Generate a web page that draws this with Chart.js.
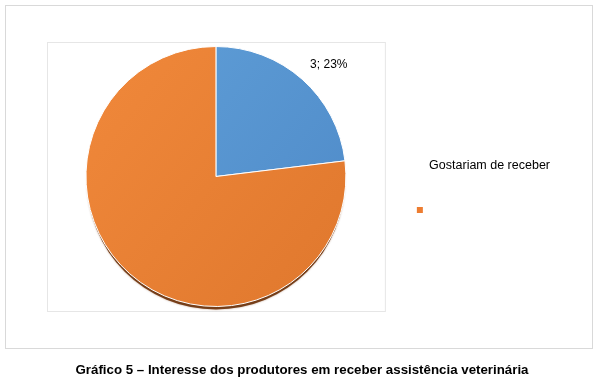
<!DOCTYPE html>
<html>
<head>
<meta charset="utf-8">
<script src="https://cdn.jsdelivr.net/npm/chart.js@4"></script>
<style>
  html, body { margin: 0; padding: 0; background: #fff; }
  #wrap { position: relative; width: 600px; height: 380px; }
  #frame { position: absolute; left: 5px; top: 5px; width: 588px; height: 344px;
           border: 1px solid #d9d9d9; box-sizing: border-box; }
  #chart { position: absolute; left: 0; top: 0; }
  #caption { position: absolute; left: 0; width: 604px; top: 362px; text-align: center;
             font: bold 13.3px "Liberation Sans", Arial, sans-serif; color: #000; }
</style>
</head>
<body>
<div id="wrap">
  <div id="frame"></div>
  <canvas id="chart" width="600" height="380"></canvas>
  <div id="caption">Gráfico 5 – Interesse dos produtores em receber assistência veterinária</div>
</div>
<script>
const categories = ['Gostariam de receber', ''];
const counts = [3, 10];
const percents = [23, 77];
const showLabel = [true, false];

const font = '"Liberation Sans", Arial, sans-serif';
const sliceLight = ['#62a2da', '#f28a3c'];
const sliceDark = ['#4c87c6', '#de762c'];

function sliceFill(ctx) {
  const i = ctx.dataIndex;
  const area = ctx.chart.chartArea;
  if (!area) return sliceLight[i];
  const g = ctx.chart.ctx.createLinearGradient(area.left, area.top, area.right, area.bottom);
  g.addColorStop(0, sliceLight[i]);
  g.addColorStop(1, sliceDark[i]);
  return g;
}

// inner plot-area box + a drop shadow under the pie
const decor = {
  id: 'decor',
  beforeDatasetsDraw(chart) {
    const { ctx, chartArea: a } = chart;
    ctx.save();
    ctx.strokeStyle = '#e6e6e6';
    ctx.lineWidth = 1;
    ctx.strokeRect(a.left + 0.5, a.top + 0.5, a.right - a.left, a.bottom - a.top);
    const arc = chart.getDatasetMeta(0).data[0];
    if (arc) {
      ctx.fillStyle = 'rgba(110,50,10,0.9)';
      ctx.shadowColor = 'rgba(110,50,10,0.5)';
      ctx.shadowBlur = 2;
      ctx.beginPath();
      ctx.arc(arc.x, arc.y + 4, arc.outerRadius - 1, 0, Math.PI * 2);
      ctx.fill();
    }
    ctx.restore();
  }
};

// "value; percent" labels outside the slice
const sliceLabels = {
  id: 'sliceLabels',
  afterDraw(chart) {
    const { ctx } = chart;
    chart.getDatasetMeta(0).data.forEach((arc, i) => {
      if (!showLabel[i]) return;
      const mid = (arc.startAngle + arc.endAngle) / 2;
      const x = arc.x + Math.cos(mid) * arc.outerRadius;
      const y = arc.y + Math.sin(mid) * arc.outerRadius;
      ctx.save();
      ctx.font = '12px ' + font;
      ctx.fillStyle = '#000';
      ctx.textAlign = 'left';
      ctx.textBaseline = 'middle';
      ctx.fillText(counts[i] + '; ' + percents[i] + '%', x + 8, y - 15);
      ctx.restore();
    });
  }
};

new Chart(document.getElementById('chart'), {
  type: 'pie',
  data: {
    labels: categories,
    datasets: [{
      data: counts,
      backgroundColor: sliceFill,
      borderColor: '#ffffff',
      borderWidth: 1,
      hoverOffset: 0
    }]
  },
  options: {
    responsive: false,
    animation: false,
    radius: '97%',
    layout: { padding: { left: 47, top: 42, bottom: 69, right: 40 } },
    plugins: {
      tooltip: { enabled: false },
      title: { display: false },
      legend: {
        position: 'right',
        title: { display: true, text: ' ', padding: { top: 8, bottom: 0 }, font: { size: 12, family: font } },
        labels: {
          boxWidth: 6,
          boxHeight: 6,
          padding: 32,
          color: '#000',
          font: { size: 12.5, family: font },
          generateLabels: () => categories.map((c, i) => ({
            text: c,
            fillStyle: i === 0 ? 'rgba(0,0,0,0)' : '#ed7d31',
            strokeStyle: i === 0 ? 'rgba(0,0,0,0)' : '#ed7d31',
            fontColor: '#000',
            lineWidth: 0,
            hidden: false,
            index: i
          }))
        }
      }
    }
  },
  plugins: [decor, sliceLabels]
});
</script>
</body>
</html>
